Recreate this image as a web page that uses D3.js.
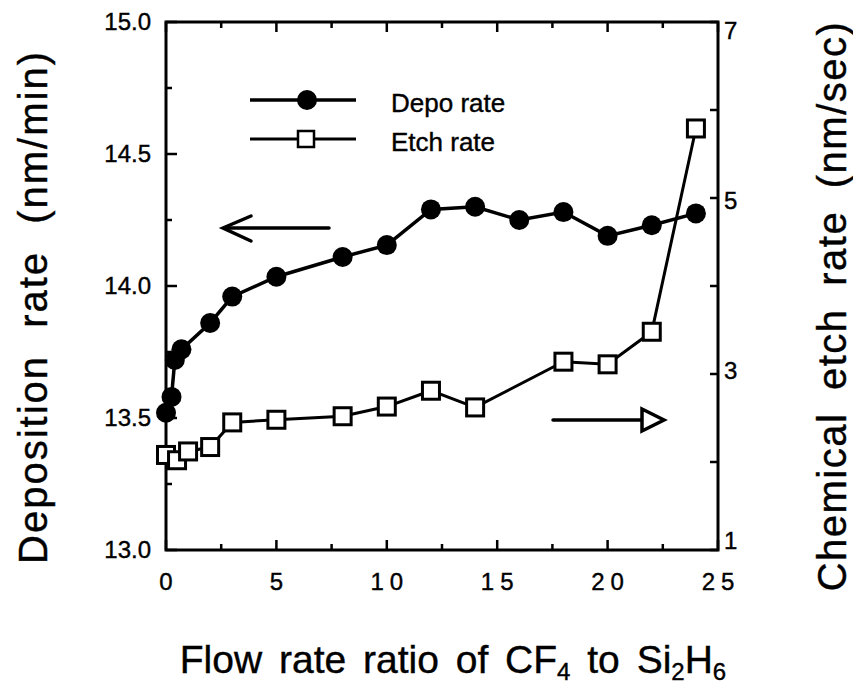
<!DOCTYPE html>
<html>
<head>
<meta charset="utf-8">
<script src="https://cdn.jsdelivr.net/npm/d3@7"></script>
<style>
  html, body { margin: 0; padding: 0; background: #fff; }
  svg text { font-family: "Liberation Sans", Arial, Helvetica, sans-serif; fill: #000; stroke: #000; stroke-width: 0.4px; }
</style>
</head>
<body>
<svg id="chart" width="853" height="685"></svg>
<script>
// Flow-rate ratio CF4 : Si2H6 for each measurement
const depoRatio = [0, 0.25, 0.4, 0.7, 2, 3, 5, 8, 10, 12, 14, 16, 18, 20, 22, 24];
const depoRate  = [13.52, 13.58, 13.72, 13.76, 13.86, 13.96, 14.035, 14.11, 14.155, 14.29, 14.30, 14.25, 14.28, 14.19, 14.23, 14.275];

const etchRatio = [0, 0.5, 1, 2, 3, 5, 8, 10, 12, 14, 18, 20, 22, 24];
const etchRate  = [2.08, 2.02, 2.12, 2.17, 2.45, 2.48, 2.52, 2.63, 2.81, 2.62, 3.14, 3.11, 3.48, 5.79];

const xTickValues   = [0, 5, 10, 15, 20, 25];
const xMinorValues  = [2.5, 7.5, 12.5, 17.5, 22.5];
const yLeftTicks    = [13.0, 13.5, 14.0, 14.5, 15.0];
const yLeftMinor    = [13.25, 13.75, 14.25, 14.75];
const yRightTicks   = [1, 3, 5, 7];
const yRightMinor   = [2, 4, 6];

const svg = d3.select("#chart");
const L = 166, R = 718, T = 22, B = 550;

const x  = d3.scaleLinear().domain([0, 25]).range([L, R]);
const yL = d3.scaleLinear().domain([13, 15]).range([B, T]);
const yR = d3.scaleLinear().domain([1, 7]).range([B, T]);

// Frame ticks (pointing inward)
const tickG = svg.append("g").attr("stroke", "#000").attr("stroke-width", 2.5);
function ticks(vals, len, pos) {
  vals.forEach(v => {
    if (pos === "bottom") tickG.append("line").attr("x1", x(v)).attr("x2", x(v)).attr("y1", B).attr("y2", B - len);
    if (pos === "top")    tickG.append("line").attr("x1", x(v)).attr("x2", x(v)).attr("y1", T).attr("y2", T + len);
    if (pos === "left")   tickG.append("line").attr("x1", L).attr("x2", L + len).attr("y1", yL(v)).attr("y2", yL(v));
    if (pos === "right")  tickG.append("line").attr("x1", R).attr("x2", R - len).attr("y1", yR(v)).attr("y2", yR(v));
  });
}
ticks(xTickValues, 10, "bottom"); ticks(xMinorValues, 6, "bottom");
ticks(xTickValues, 10, "top");    ticks(xMinorValues, 6, "top");
ticks(yLeftTicks, 11, "left");    ticks(yLeftMinor, 6, "left");
ticks(yRightTicks, 8, "right");   ticks(yRightMinor, 8, "right");

// Plot frame
svg.append("rect").attr("x", L).attr("y", T).attr("width", R - L).attr("height", B - T)
  .attr("fill", "none").attr("stroke", "#000").attr("stroke-width", 3);

// Tick labels
svg.append("g").selectAll("text").data(xTickValues).join("text")
  .attr("x", d => x(d) + (d >= 10 ? 3 : 0)).attr("y", 590)
  .attr("text-anchor", "middle").attr("font-size", 24).attr("letter-spacing", d => d >= 10 ? "6px" : "0px")
  .text(d => d);
svg.append("g").selectAll("text").data(yLeftTicks).join("text")
  .attr("x", 151).attr("y", d => yL(d) + 8)
  .attr("text-anchor", "end").attr("font-size", 24)
  .text(d => d3.format(".1f")(d));
svg.append("g").selectAll("text").data(yRightTicks).join("text")
  .attr("x", 724).attr("y", d => yR(d) + 8 + (d - 4) * 3)
  .attr("text-anchor", "start").attr("font-size", 24)
  .text(d => d);

// Axis titles
svg.append("text").attr("transform", "translate(47,307) rotate(-90)")
  .attr("text-anchor", "middle").attr("font-size", 40)
  .attr("letter-spacing", "2px").attr("word-spacing", "14px")
  .text("Deposition rate (nm/min)");
svg.append("text").attr("transform", "translate(846,306) rotate(-90)")
  .attr("text-anchor", "middle").attr("font-size", 40)
  .attr("letter-spacing", "1.5px").attr("word-spacing", "10px")
  .text("Chemical etch rate (nm/sec)");
const xt = svg.append("text").attr("x", 453).attr("y", 673).attr("text-anchor", "middle")
  .attr("font-size", 39).attr("word-spacing", "6px");
xt.append("tspan").text("Flow rate ratio of CF");
xt.append("tspan").attr("font-size", 24).attr("dy", 7).text("4");
xt.append("tspan").attr("dy", -7).text(" to Si");
xt.append("tspan").attr("font-size", 24).attr("dy", 7).text("2");
xt.append("tspan").attr("dy", -7).text("H");
xt.append("tspan").attr("font-size", 24).attr("dy", 7).text("6");

// Series lines
const depoLine = d3.line().x((d, i) => x(depoRatio[i])).y(d => yL(d));
const etchLine = d3.line().x((d, i) => x(etchRatio[i])).y(d => yR(d));

svg.append("path").datum(etchRate).attr("d", etchLine)
  .attr("fill", "none").attr("stroke", "#000").attr("stroke-width", 3);
svg.append("path").datum(depoRate).attr("d", depoLine)
  .attr("fill", "none").attr("stroke", "#000").attr("stroke-width", 3.5);

// Markers
const sq = 17;
svg.append("g").selectAll("rect").data(etchRate).join("rect")
  .attr("x", (d, i) => x(etchRatio[i]) - sq / 2).attr("y", d => yR(d) - sq / 2)
  .attr("width", sq).attr("height", sq)
  .attr("fill", "#fff").attr("stroke", "#000").attr("stroke-width", 3);
svg.append("g").selectAll("circle").data(depoRate).join("circle")
  .attr("cx", (d, i) => x(depoRatio[i])).attr("cy", d => yL(d)).attr("r", 10)
  .attr("fill", "#000");

// Legend
const lg = svg.append("g");
lg.append("line").attr("x1", 250).attr("x2", 356).attr("y1", 100).attr("y2", 100)
  .attr("stroke", "#000").attr("stroke-width", 3.5);
lg.append("circle").attr("cx", 307).attr("cy", 100).attr("r", 10).attr("fill", "#000");
lg.append("text").attr("x", 391).attr("y", 112).attr("font-size", 26).text("Depo rate");
lg.append("line").attr("x1", 250).attr("x2", 356).attr("y1", 139).attr("y2", 139)
  .attr("stroke", "#000").attr("stroke-width", 3);
lg.append("rect").attr("x", 306 - 8).attr("y", 139 - 8).attr("width", 16).attr("height", 16)
  .attr("fill", "#fff").attr("stroke", "#000").attr("stroke-width", 2.5);
lg.append("text").attr("x", 391).attr("y", 151).attr("font-size", 26).text("Etch rate");

// Direction arrows: left arrow → deposition axis, right arrow → etch axis
const ar = svg.append("g").attr("fill", "none").attr("stroke", "#000").attr("stroke-width", 3.5)
  .attr("stroke-linejoin", "miter").attr("stroke-linecap", "round");
ar.append("line").attr("x1", 329).attr("x2", 226).attr("y1", 228).attr("y2", 228);
ar.append("path").attr("d", "M251,216 L223,228 L251,241");
ar.append("line").attr("x1", 553).attr("x2", 660).attr("y1", 420).attr("y2", 420);
ar.append("path").attr("d", "M642,409 L664,420 L642,431 Z").attr("fill", "#fff");
</script>
</body>
</html>
